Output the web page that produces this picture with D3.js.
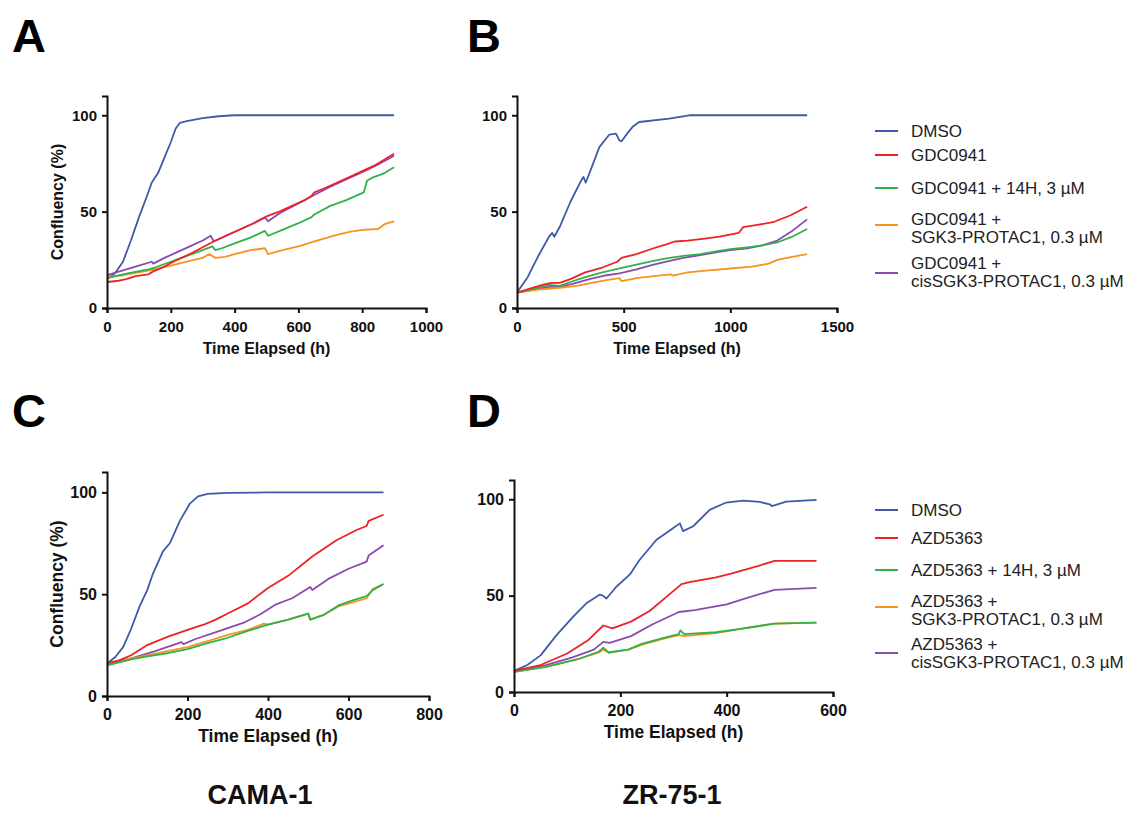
<!DOCTYPE html>
<html>
<head>
<meta charset="utf-8">
<script src="https://cdn.jsdelivr.net/npm/d3@7"></script>
<style>
  body { margin: 0; background: #fff; }
  svg { font-family: "Liberation Sans", Arial, sans-serif; }
</style>
</head>
<body>
<script>
// series colours, same order in every panel
const seriesColors = ['#3f5aa8', '#ec2227', '#2fb24a', '#f7931e', '#8b4aae'];

const legendTop = ['DMSO', 'GDC0941', 'GDC0941 + 14H, 3 µM', 'GDC0941 +|SGK3-PROTAC1, 0.3 µM', 'GDC0941 +|cisSGK3-PROTAC1, 0.3 µM'];
const legendBottom = ['DMSO', 'AZD5363', 'AZD5363 + 14H, 3 µM', 'AZD5363 +|SGK3-PROTAC1, 0.3 µM', 'AZD5363 +|cisSGK3-PROTAC1, 0.3 µM'];

const xTicksA = [0, 200, 400, 600, 800, 1000];
const xTicksB = [0, 500, 1000, 1500];
const xTicksC = [0, 200, 400, 600, 800];
const xTicksD = [0, 200, 400, 600];
const yTicks = [0, 50, 100];

// panel A : CAMA-1, GDC0941
const aDMSO = [[0,15],[25,18],[50,24],[75,35],[100,47],[125,58],[140,65],[160,70],[180,78],[200,86],[215,93],[228,96],[250,97],[300,98.5],[350,99.5],[400,100],[900,100]];
const aGDC = [[0,13.5],[30,14],[60,15],[90,16.5],[130,17.5],[145,19],[180,21.5],[220,25],[260,28],[300,31.5],[340,35],[380,38],[420,41],[460,44],[500,47.5],[540,50],[580,53],[620,56],[640,58],[650,60],[680,62],[720,65],[760,68],[800,71],[840,74],[870,77],[900,80]];
const aGDC14H = [[0,15.5],[40,17],[80,18.5],[130,20],[150,21],[200,24],[250,27],[300,30],[330,32],[340,30],[360,31],[400,33.5],[450,36.5],[495,40],[505,37.5],[550,40.5],[600,44],[640,47],[650,48.5],[700,53],[750,56],[805,60],[815,66],[830,67.5],[870,70],[900,73]];
const aGDCPro = [[0,16],[50,17],[100,18.5],[150,20],[200,22],[250,24],[300,26],[320,28],[340,26],[370,26.5],[400,28],[450,30],[495,31],[505,28],[550,30],[600,32],[640,34],[680,36],[720,38],[760,39.5],[800,40.5],[850,41],[870,43.5],[900,45]];
const aGDCcis = [[0,17],[50,19.5],[100,22],[140,24],[145,23],[180,26],[220,29],[260,32],[300,35],[325,37.5],[335,34.5],[380,38],[420,41],[460,44],[495,47],[505,45],[540,49],[580,52.5],[620,56],[660,59.5],[700,63],[760,67.5],[800,70.5],[850,74.5],[900,79]];

// panel B : ZR-75-1, GDC0941
const bDMSO = [[0,8],[50,16],[100,27],[150,37],[165,39],[175,37],[200,42],[250,55],[300,66],[312,68],[322,65],[350,73],[386,83.5],[433,90],[464,90.5],[480,87],[490,86.5],[520,91],[542,94],[573,96.5],[713,98.3],[807,100],[1360,100]];
const bGDC = [[0,8],[60,10],[120,12],[160,13],[200,13],[250,15],[320,18.5],[400,21],[470,24],[490,26],[560,28],[640,31],[700,33],[740,34.5],[800,35],[880,36],[950,37],[1040,39],[1060,42],[1120,43],[1200,44.5],[1280,48],[1360,52.5]];
const bGDC14H = [[0,8],[80,10],[150,12],[200,11.5],[250,13.5],[320,16],[400,18.5],[480,20.5],[560,22.5],[640,24.5],[700,25.8],[780,27],[860,28],[940,29.5],[1000,30.5],[1080,31.5],[1150,32.5],[1220,34],[1290,37],[1360,41]];
const bGDCPro = [[0,8],[100,9.5],[200,10.5],[280,11.5],[350,13],[420,14.5],[480,15.5],[490,14],[560,15.5],[640,16.5],[720,17.5],[730,16.8],[800,18.5],[900,19.5],[1000,20.5],[1100,21.5],[1180,23],[1220,25],[1290,26.5],[1360,28]];
const bGDCcis = [[0,8],[80,9.5],[150,11],[200,11],[260,12.5],[340,15],[420,17],[480,18],[560,20],[640,22.5],[700,24],[780,26],[860,27.5],[940,29],[1000,30],[1080,31],[1150,32.5],[1220,35],[1290,40],[1360,46]];

// panel C : CAMA-1, AZD5363
const cDMSO = [[0,16],[20,19],[40,24],[60,33],[81,44],[100,52],[114,60],[139,71],[156,75],[181,86],[206,94.5],[226,98],[250,99.3],[300,99.7],[400,100],[687,100]];
const cAZD = [[0,16],[30,17.5],[60,20],[100,25],[150,29],[200,32.5],[240,35],[270,37.5],[310,41.5],[350,45.5],[400,53],[450,59],[510,68.5],[570,76.5],[620,81.5],[645,83.5],[650,86],[687,89]];
const cAZD14H = [[0,15],[60,18],[100,19.5],[150,21],[200,23],[250,26],[290,28],[350,32],[400,35],[450,37.5],[500,40.5],[505,37.5],[540,40],[575,44.5],[610,47],[645,49],[660,52],[687,55]];
const cAZDPro = [[0,15.5],[60,18.5],[100,20],[150,22],[200,24],[250,27],[300,30],[350,32.5],[390,35.5],[400,35],[450,37.5],[500,40.5],[505,37.5],[540,40],[575,44],[610,46],[645,48],[660,52.5],[687,55]];
const cAZDcis = [[0,16],[60,18.5],[120,22],[185,26.5],[190,25.5],[220,28],[280,32],[340,36],[380,40],[420,45],[460,48],[505,53.5],[510,52],[550,57.5],[600,62.5],[645,66],[650,69],[687,74]];

// panel D : ZR-75-1, AZD5363
const dDMSO = [[0,11],[25,14],[50,19],[80,29.5],[111,39],[136,46],[161,50.5],[167,50],[174,48.5],[192,54.5],[218,61],[236,68.5],[268,79],[299,85],[312,87.5],[318,83.5],[337,86],[368,94.5],[399,98.3],[431,99.3],[462,98.6],[481,97.4],[485,96.5],[512,98.8],[569,99.7]];
const dAZD = [[0,11],[50,14],[100,20],[140,27],[168,34.5],[185,33],[220,36.5],[255,42],[285,49],[315,56],[330,57],[380,59.5],[410,61.5],[460,65.5],[490,68],[569,68]];
const dAZD14H = [[0,10.5],[60,13],[120,17],[160,21],[168,23],[178,20.5],[215,22],[240,25],[280,28],[310,30],[313,32],[320,30],[380,31],[420,32.5],[490,35.5],[569,36]];
const dAZDPro = [[0,10.5],[60,13],[120,17],[160,20.5],[168,22],[178,20.5],[215,22],[240,24.5],[280,27.5],[310,29.5],[320,29],[380,30.5],[420,32.5],[490,35.5],[569,36]];
const dAZDcis = [[0,11],[60,14],[110,18],[150,22],[168,26],[180,25.5],[220,29],[260,35],[310,41.5],[340,42.5],[400,45.5],[440,49],[490,53],[569,54]];

const svg = d3.select('body').append('svg').attr('width', 1131).attr('height', 813);

const panels = [
  {letter: 'A', lx: 12, ly: 52, xr: [107, 426], yr: [308, 96], xmax: 1000, ticks: xTicksA, series: [aDMSO, aGDC, aGDC14H, aGDCPro, aGDCcis], ytitle: true, fs: 15, tfs: 16},
  {letter: 'B', lx: 467, ly: 52, xr: [517, 837], yr: [308, 96], xmax: 1500, ticks: xTicksB, series: [bDMSO, bGDC, bGDC14H, bGDCPro, bGDCcis], ytitle: false, fs: 15, tfs: 16},
  {letter: 'C', lx: 12, ly: 427, xr: [107, 429], yr: [696, 472], xmax: 800, ticks: xTicksC, series: [cDMSO, cAZD, cAZD14H, cAZDPro, cAZDcis], ytitle: true, fs: 16, tfs: 17.5},
  {letter: 'D', lx: 467, ly: 427, xr: [514, 833], yr: [692, 480], xmax: 600, ticks: xTicksD, series: [dDMSO, dAZD, dAZD14H, dAZDPro, dAZDcis], ytitle: false, fs: 16, tfs: 17.5}
];

// draw order so red sits on top like the original
const drawOrder = [0, 4, 3, 2, 1];

panels.forEach(function(p) {
  const x = d3.scaleLinear().domain([0, p.xmax]).range(p.xr);
  const y = d3.scaleLinear().domain([0, 110]).range(p.yr);
  const g = svg.append('g');

  const line = d3.line().x(d => x(d[0])).y(d => y(d[1]));
  drawOrder.forEach(function(i) {
    g.append('path').datum(p.series[i])
      .attr('d', line)
      .attr('fill', 'none')
      .attr('stroke', seriesColors[i])
      .attr('stroke-width', 1.8)
      .attr('stroke-linejoin', 'round');
  });

  const xa = g.append('g').attr('transform', 'translate(0,' + p.yr[0] + ')')
    .call(d3.axisBottom(x).tickValues(p.ticks).tickFormat(d3.format('d')).tickSize(5).tickPadding(8));
  const ya = g.append('g').attr('transform', 'translate(' + p.xr[0] + ',0)')
    .call(d3.axisLeft(y).tickValues(yTicks).tickFormat(d3.format('d')).tickSize(5).tickPadding(5));
  [xa, ya].forEach(function(a) {
    a.select('.domain').attr('stroke', '#111').attr('stroke-width', 2);
    a.selectAll('.tick line').attr('stroke', '#111').attr('stroke-width', 2);
    a.selectAll('.tick text').attr('fill', '#111').attr('font-size', p.fs).attr('font-weight', 'bold')
      .attr('font-family', '"Liberation Sans", Arial, sans-serif');
  });

  g.append('text')
    .attr('x', (p.xr[0] + p.xr[1]) / 2)
    .attr('y', p.yr[0] + 46)
    .attr('text-anchor', 'middle')
    .attr('font-size', p.tfs)
    .attr('font-weight', 'bold')
    .attr('fill', '#111')
    .text('Time Elapsed (h)');

  if (p.ytitle) {
    g.append('text')
      .attr('transform', 'translate(63,' + ((p.yr[0] + p.yr[1]) / 2) + ') rotate(-90)')
      .attr('text-anchor', 'middle')
      .attr('font-size', p.tfs)
      .attr('font-weight', 'bold')
      .attr('fill', '#111')
      .text('Confluency (%)');
  }

  svg.append('text')
    .attr('x', p.lx).attr('y', p.ly)
    .attr('font-size', 47).attr('font-weight', 'bold')
    .attr('fill', '#000')
    .text(p.letter);
});

// legends
function drawLegend(labels, rows) {
  const lg = svg.append('g');
  labels.forEach(function(lab, i) {
    const r = rows[i];
    lg.append('line')
      .attr('x1', 875).attr('x2', 898)
      .attr('y1', r.line).attr('y2', r.line)
      .attr('stroke', seriesColors[i]).attr('stroke-width', 2);
    lab.split('|').forEach(function(part, j) {
      lg.append('text')
        .attr('x', 911).attr('y', r.text[j] + 6)
        .attr('font-size', 17)
        .attr('fill', '#222')
        .text(part);
    });
  });
}

drawLegend(legendTop, [
  {line: 131, text: [131]},
  {line: 155, text: [155]},
  {line: 188, text: [188]},
  {line: 225, text: [219, 237]},
  {line: 273, text: [263, 281]}
]);
drawLegend(legendBottom, [
  {line: 510, text: [510]},
  {line: 538, text: [538]},
  {line: 570, text: [570]},
  {line: 607, text: [601, 619]},
  {line: 653, text: [644, 662]}
]);

// cell line names under the columns
[['CAMA-1', 260], ['ZR-75-1', 672]].forEach(function(d) {
  svg.append('text')
    .attr('x', d[1]).attr('y', 804)
    .attr('text-anchor', 'middle')
    .attr('font-size', 27).attr('font-weight', 'bold')
    .attr('fill', '#111')
    .text(d[0]);
});
</script>
</body>
</html>
